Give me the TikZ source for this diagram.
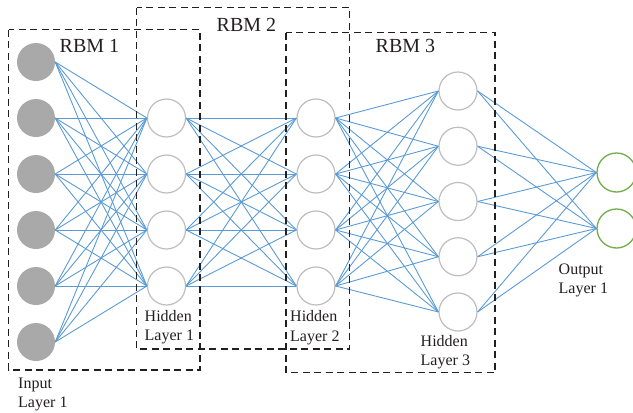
\documentclass[tikz,border=0pt]{standalone}
\usepackage{fontspec}
\setmainfont{Liberation Serif}
\definecolor{nodegray}{HTML}{A9A9A9}
\definecolor{ringgray}{HTML}{BEBEBE}
\definecolor{ringgreen}{HTML}{70AD47}
\definecolor{linkblue}{HTML}{5B9BD5}
\definecolor{inkgray}{HTML}{231F20}
\begin{document}
\begin{tikzpicture}[x=1pt,y=-1pt,
  inputnode/.style={circle,fill=nodegray,draw=none,minimum size=38pt,inner sep=0pt},
  hiddennode/.style={circle,fill=white,draw=ringgray,line width=1.2pt,minimum size=38pt,inner sep=0pt},
  outputnode/.style={circle,fill=white,draw=ringgreen,line width=1.3pt,minimum size=39pt,inner sep=0pt},
  link/.style={draw=linkblue,line width=0.9pt},
  rbmbox/.style={draw=inkgray,line width=1.3pt,dash pattern=on 7pt off 4.5pt},
  rbmlabel/.style={anchor=base west,inner sep=0pt,text=inkgray,font=\fontsize{20}{22}\selectfont},
  layerlabel/.style={anchor=base west,inner sep=0pt,text=inkgray,align=left,font=\fontsize{16}{19.5}\selectfont}]
\useasboundingbox (0,0) rectangle (633,413);

% input layer
\foreach \i/\y in {1/62,2/118,3/174,4/230,5/286,6/342}
  \node[inputnode] (in\i) at (36,\y) {};
% hidden layers 1 and 2
\foreach \i/\y in {1/118,2/174,3/230,4/286}{
  \node[hiddennode] (ha\i) at (166.5,\y) {};
  \node[hiddennode] (hb\i) at (316,\y) {};
}
% hidden layer 3
\foreach \i/\y in {1/91,2/146.25,3/201.5,4/256.75,5/312}
  \node[hiddennode] (hc\i) at (458,\y) {};
% output layer
\node[outputnode] (out1) at (616.5,172.5) {};
\node[outputnode] (out2) at (616.5,228.5) {};

% connections
\foreach \i in {1,...,6}
  \foreach \j in {1,...,4}
    \draw[link] (in\i.east) -- (ha\j.west);
\foreach \i in {1,...,4}
  \foreach \j in {1,...,4}
    \draw[link] (ha\i.east) -- (hb\j.west);
\foreach \i in {1,...,4}
  \foreach \j in {1,...,5}
    \draw[link] (hb\i.east) -- (hc\j.west);
\foreach \i in {1,...,5}
  \foreach \j in {1,2}
    \draw[link] (hc\i.east) -- (out\j.west);

% RBM boxes
\draw[rbmbox] (8.5,29.5) rectangle (200,370);
\draw[rbmbox] (136.5,7.5) rectangle (349.5,349);
\draw[rbmbox] (286,32.5) rectangle (495,372.5);

\node[rbmlabel] (rbm1) at (59.5,52.3) {RBM 1};
\node[rbmlabel] (rbm2) at (216.5,31) {RBM 2};
\node[rbmlabel] (rbm3) at (375.5,52.3) {RBM 3};

% layer captions (positioned at the baseline of the second line)
\node[layerlabel] (lin) at (18,407.5) {Input\\Layer 1};
\node[layerlabel] (lh1) at (144.5,340.5) {Hidden\\Layer 1};
\node[layerlabel] (lh2) at (290,341) {Hidden\\Layer 2};
\node[layerlabel] (lh3) at (420.5,365.5) {Hidden\\Layer 3};
\node[layerlabel] (lout) at (558.5,293.5) {Output\\Layer 1};
\end{tikzpicture}
\end{document}
